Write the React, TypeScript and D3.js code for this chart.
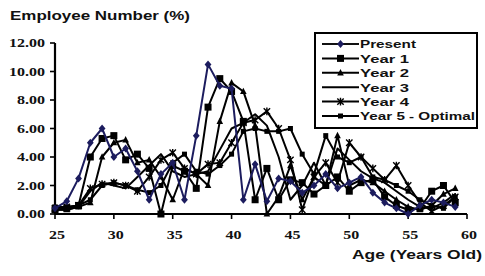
import * as d3 from 'd3';

const ages = d3.range(25, 60);

const present = [0.4, 0.9, 2.5, 5.0, 6.0, 4.0, 4.6, 3.0, 1.0, 2.8, 3.6, 1.0, 5.5, 10.5, 9.0, 8.8, 1.0, 3.5, 0.9, 2.5, 2.3, 1.5, 2.0, 2.8, 1.8, 2.2, 2.6, 1.5, 0.8, 0.4, 0.0, 0.6, 1.0, 0.8, 0.5];
const year1 = [0.3, 0.4, 0.6, 4.0, 5.3, 5.5, 3.8, 4.2, 3.2, 0.0, 3.4, 3.0, 1.8, 7.5, 9.5, 8.6, 6.5, 1.0, 3.2, 1.0, 2.4, 2.2, 1.4, 2.0, 2.6, 1.6, 2.2, 2.4, 1.2, 0.6, 0.3, 0.4, 1.6, 2.0, 0.8];
const year2 = [0.3, 0.3, 0.5, 0.8, 4.0, 5.0, 5.2, 3.6, 3.8, 2.6, 1.0, 3.2, 2.8, 2.0, 6.5, 9.2, 8.6, 6.2, 0.0, 1.2, 3.4, 1.0, 2.6, 2.0, 5.5, 2.0, 2.4, 2.2, 1.6, 1.0, 0.5, 0.3, 0.6, 1.4, 1.8];
const year3 = [0.3, 0.3, 0.5, 1.6, 2.2, 2.0, 1.8, 2.6, 3.4, 4.2, 3.0, 2.6, 2.8, 3.0, 4.5, 6.0, 6.4, 7.0, 6.2, 4.0, 1.0, 2.0, 3.6, 2.0, 4.6, 3.8, 3.0, 2.5, 2.2, 1.6, 1.0, 0.5, 0.4, 0.8, 1.4];
const year4 = [0.4, 0.5, 0.6, 1.8, 2.1, 2.2, 2.0, 1.6, 2.6, 3.8, 4.3, 3.2, 2.8, 3.5, 3.6, 5.0, 6.4, 6.6, 7.2, 6.0, 3.8, 0.3, 2.6, 3.6, 2.2, 5.0, 4.0, 3.2, 2.4, 3.4, 2.0, 0.8, 0.2, 0.6, 1.2];
const year5 = [0.5, 0.5, 0.6, 1.0, 2.0, 2.2, 2.0, 1.7, 1.5, 2.0, 3.6, 4.2, 3.0, 2.8, 3.4, 4.2, 5.8, 6.0, 5.8, 5.8, 6.0, 4.2, 2.8, 5.5, 4.0, 3.6, 4.0, 2.6, 2.4, 2.0, 1.6, 1.0, 0.6, 0.4, 1.2];

const seriesNames = ['Present', 'Year 1', 'Year 2', 'Year 3', 'Year 4', 'Year 5 - Optimal'];
const xTicks = [25, 30, 35, 40, 45, 50, 55, 60];
const yTicks = [0, 2, 4, 6, 8, 10, 12];

const NAVY = '#1c1c5e';
const STRETCH = 1.28;

const series = [
  { name: seriesNames[0], values: present, color: NAVY, marker: 'diamond' },
  { name: seriesNames[1], values: year1, color: '#000', marker: 'square' },
  { name: seriesNames[2], values: year2, color: '#000', marker: 'triangle' },
  { name: seriesNames[3], values: year3, color: '#000', marker: 'none' },
  { name: seriesNames[4], values: year4, color: '#000', marker: 'star' },
  { name: seriesNames[5], values: year5, color: '#000', marker: 'dot' },
];

// legend label widths (its text is stretched sideways)
const legendWidths = [56, 49, 49, 49, 49, 115];

function Marker({ type, x, y, color }: { type: string; x: number; y: number; color: string }) {
  if (type === 'diamond')
    return <path d={`M${x},${y - 4}L${x + 3.4},${y}L${x},${y + 4}L${x - 3.4},${y}Z`} fill={color} />;
  if (type === 'square')
    return <rect x={x - 3.5} y={y - 3.5} width={7} height={7} fill={color} />;
  if (type === 'triangle')
    return <path d={`M${x},${y - 3.8}L${x + 3.3},${y + 2.6}L${x - 3.3},${y + 2.6}Z`} fill={color} />;
  if (type === 'star')
    return (
      <path
        d={`M${x - 3.2},${y - 3.2}L${x + 3.2},${y + 3.2}M${x - 3.2},${y + 3.2}L${x + 3.2},${y - 3.2}M${x},${y - 3.8}L${x},${y + 3.8}`}
        stroke={color}
        strokeWidth={1.4}
      />
    );
  if (type === 'dot') return <rect x={x - 2.5} y={y - 2.5} width={5} height={5} fill={color} />;
  return null;
}

export default function App() {
  const w = 485;
  const h = 276;
  const x = d3.scaleLinear().domain([25, 60]).range([55, 467]);
  const y = d3.scaleLinear().domain([0, 12]).range([214, 43]);

  const line = d3
    .line<number>()
    .x((_, i) => x(ages[i]))
    .y((d) => y(d));

  const drawOrder = [5, 4, 3, 2, 1, 0];
  const legendY = d3.scalePoint<string>().domain(seriesNames).range([44, 116]);

  return (
    <svg width={w} height={h} style={{ position: 'absolute', left: 0, top: 0, background: '#fff' }}>
      <text x={10} y={19.5} fontFamily="Liberation Sans, Arial, sans-serif" fontWeight="bold" fontSize={13.3}
        textLength={180} lengthAdjust="spacingAndGlyphs" fill="#111">
        Employee Number (%)
      </text>

      {/* y axis */}
      <line x1={x(25)} x2={x(25)} y1={y(12)} y2={y(0)} stroke="#000" strokeWidth={2.2} />
      {yTicks.map((t) => (
        <g key={t}>
          <line x1={x(25) - 5} x2={x(25)} y1={y(t)} y2={y(t)} stroke="#000" strokeWidth={1.6} />
          <text
            transform={`translate(45,${y(t) + 4.3}) scale(${STRETCH},1)`}
            textAnchor="end"
            fontFamily="Liberation Serif, Times New Roman, serif"
            fontWeight="bold"
            fontSize={12.5}
            fill="#111"
          >
            {t.toFixed(2)}
          </text>
        </g>
      ))}

      {/* x axis */}
      <line x1={x(25)} x2={x(60)} y1={y(0)} y2={y(0)} stroke="#000" strokeWidth={2.2} />
      {xTicks.map((t) => (
        <g key={t}>
          <line x1={x(t)} x2={x(t)} y1={y(0)} y2={y(0) + 5} stroke="#000" strokeWidth={1.6} />
          <text
            transform={`translate(${x(t) + 2},${y(0) + 24.5}) scale(${STRETCH},1)`}
            textAnchor="middle"
            fontFamily="Liberation Serif, Times New Roman, serif"
            fontWeight="bold"
            fontSize={12.5}
            fill="#111"
          >
            {t}
          </text>
        </g>
      ))}

      {drawOrder.map((si) => {
        const s = series[si];
        return (
          <g key={s.name}>
            <path d={line(s.values) || ''} fill="none" stroke={s.color} strokeWidth={2} strokeLinejoin="round" />
            {s.values.map((v, i) => (
              <Marker key={i} type={s.marker} x={x(ages[i])} y={y(v)} color={s.color} />
            ))}
          </g>
        );
      })}

      {/* legend */}
      <rect x={315} y={33} width={162} height={95} fill="#fff" stroke="#000" strokeWidth={2} />
      {series.map((s, i) => {
        const ly = legendY(s.name) || 0;
        return (
          <g key={s.name}>
            <line x1={322} x2={359} y1={ly} y2={ly} stroke={s.color === NAVY ? '#111' : '#000'} strokeWidth={2} />
            <Marker type={s.marker} x={340.5} y={ly} color={s.color} />
            <text
              x={360}
              y={ly + 4.3}
              fontFamily="Liberation Sans, Arial, sans-serif"
              fontWeight="bold"
              fontSize={11.8}
              textLength={legendWidths[i]}
              lengthAdjust="spacingAndGlyphs"
              fill="#111"
            >
              {s.name}
            </text>
          </g>
        );
      })}

      <text x={482} y={259} textAnchor="end" fontFamily="Liberation Sans, Arial, sans-serif" fontWeight="bold"
        fontSize={13.5} textLength={130} lengthAdjust="spacingAndGlyphs" fill="#111">
        Age (Years Old)
      </text>
    </svg>
  );
}
